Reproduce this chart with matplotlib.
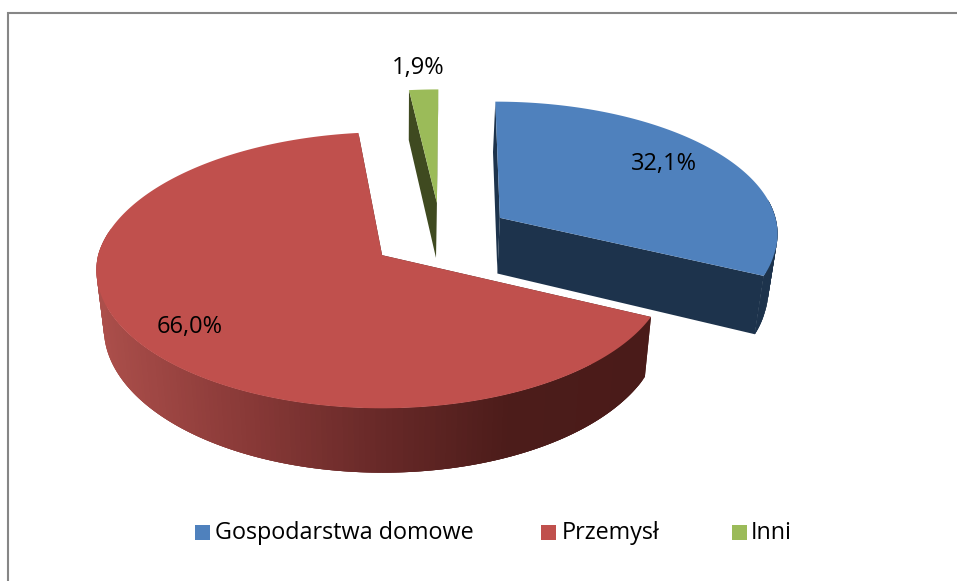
import numpy as np
import matplotlib
matplotlib.use('Agg')
import matplotlib.pyplot as plt
from matplotlib.patches import Polygon, Rectangle
from matplotlib.colors import LinearSegmentedColormap

categories = ['Gospodarstwa domowe', 'Przemysł', 'Inni']
values = [32.1, 66.0, 1.9]
top_colors = ['#4F81BD', '#C0504D', '#9BBB59']
side_colors = ['#1D334C', '#4C1C1A', '#3F4A20']

# uklad pikselowy: dysk w plaszczyznie (u, v), perspektywa jak w excelu
X0, Y0 = 382, 255
RX, RY, K = 284, 136.4, 0.1087
SHEAR = 0.027
DEPTH = 57.4
VANISH_X, SHRINK = 400, 0.0245
CENTER = (0.206, 0.146)
EXPLODE = 0.253


def project(u, v, lower=False):
    u = np.asarray(u, dtype=float)
    v = np.asarray(v, dtype=float)
    px = X0 + RX * (u + SHEAR * np.maximum(v, 0)) / (1 + K * v)
    py = Y0 - RY * v / (1 + K * v)
    if lower:
        py = py + DEPTH / (1 + K * v)
        px = px + (VANISH_X - px) * SHRINK
    return np.column_stack([px, py])


fig = plt.figure(figsize=(9.57, 5.81), dpi=100)
ax = fig.add_axes([0, 0, 1, 1])
ax.set_xlim(0, 957)
ax.set_ylim(581, 0)
ax.axis('off')

# ramka wykresu
ax.plot([8, 8, 957], [581, 13, 13], color='#868686', lw=1.5, solid_joinstyle='miter')

total = sum(values)
shares = [val / total * 360 for val in values]
starts = np.cumsum([0] + shares[:-1])

red_cmap = LinearSegmentedColormap.from_list('red_side', ['#AC4F4B', '#8C3B39', '#6A2A29', '#4C1C1A', '#4A1B19'])

# rysujemy od tylu do przodu
for i in [2, 0, 1]:
    t0, t1 = np.radians(starts[i]), np.radians(starts[i] + shares[i])
    mid = (t0 + t1) / 2
    au = CENTER[0] + EXPLODE * np.sin(mid)
    av = CENTER[1] + EXPLODE * np.cos(mid)
    t = np.linspace(t0, t1, 240)
    ru = au + np.sin(t)
    rv = av + np.cos(t)

    apex_top = project([au], [av])
    apex_low = project([au], [av], lower=True)
    rim_top = project(ru, rv)
    rim_low = project(ru, rv, lower=True)

    # sciany radialne
    for k in [0, -1]:
        wall = np.vstack([apex_top, rim_top[k], rim_low[k], apex_low])
        ax.add_patch(Polygon(wall, closed=True, fc=side_colors[i], ec='none'))

    # sciana zewnetrzna, paski zachodza na siebie zeby nie bylo szwow
    xmin, xmax = rim_low[:, 0].min(), rim_low[:, 0].max()
    for j in range(len(t) - 1):
        if np.cos(t[j]) > 0.15:
            continue  # tyl dysku i tak zasloniety
        end = min(j + 3, len(t) - 1)
        quad = np.vstack([rim_top[j], rim_top[end], rim_low[end], rim_low[j]])
        col = side_colors[i]
        if i == 1:
            col = red_cmap((rim_low[j, 0] - xmin) / (xmax - xmin))
        ax.add_patch(Polygon(quad, closed=True, fc=col, ec='none'))

    # wierzch
    top = np.vstack([apex_top, rim_top])
    ax.add_patch(Polygon(top, closed=True, fc=top_colors[i], ec='none', zorder=2))

plt.rcParams['font.family'] = ['Open Sans', 'DejaVu Sans']
label_pos = [(664, 164), (190, 327), (418, 68)]
for val, pos in zip(values, label_pos):
    ax.text(pos[0], pos[1], f'{val:.1f}%'.replace('.', ','), ha='center', va='center',
            fontsize=17, color='black', zorder=5)

# legenda
legend_box = [195, 541, 732]
legend_text = [215, 562, 751]
for name, col, bx, tx in zip(categories, top_colors, legend_box, legend_text):
    ax.add_patch(Rectangle((bx, 525), 15, 15, fc=col, ec='none'))
    ax.text(tx, 533, name, ha='left', va='center', fontsize=16.8, color='black')

fig.savefig('out.png', dpi=100)
